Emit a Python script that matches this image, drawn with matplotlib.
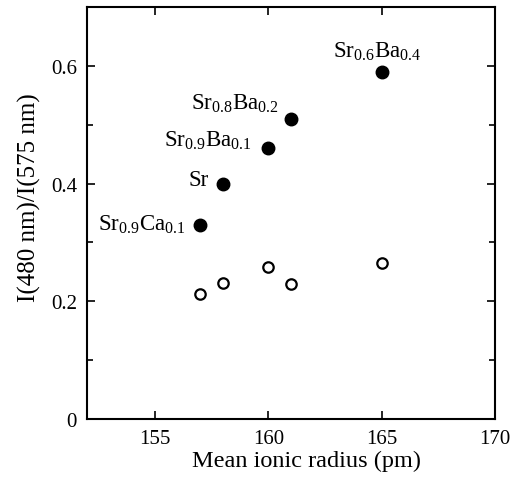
import matplotlib
matplotlib.use('Agg')
from matplotlib import pyplot as plt
from matplotlib.ticker import MultipleLocator

plt.rcParams['font.family'] = ['Liberation Serif', 'DejaVu Serif']
plt.rcParams['mathtext.default'] = 'regular'

# mean ionic radius (pm) and intensity ratio
radius = [157, 158, 160, 161, 165]
ratio_filled = [0.33, 0.40, 0.46, 0.51, 0.59]
ratio_open = [0.213, 0.231, 0.259, 0.230, 0.265]
names = [r'Sr$_{0.9}$Ca$_{0.1}$', 'Sr', r'Sr$_{0.9}$Ba$_{0.1}$',
         r'Sr$_{0.8}$Ba$_{0.2}$', r'Sr$_{0.6}$Ba$_{0.4}$']

fig = plt.figure(figsize=(5.2, 4.81), dpi=100)
ax = fig.add_axes([0.167, 0.127, 0.785, 0.856])

ax.plot(radius, ratio_filled, 'o', color='black', markersize=9, linestyle='none')
ax.plot(radius, ratio_open, 'o', markerfacecolor='white', markeredgecolor='black',
        markeredgewidth=1.6, markersize=7.5, linestyle='none')

# label offsets in pixels (dx, dy, ha)
offsets = [(-14, 1, 'right'), (-14, 4, 'right'), (-17, 8, 'right'),
           (-12, 16, 'right'), (-4, 21, 'center')]
for x, y, name, (dx, dy, ha) in zip(radius, ratio_filled, names, offsets):
    ax.annotate(name, (x, y), xytext=(dx, dy), textcoords='offset pixels',
                ha=ha, va='center', fontsize=16.5)

ax.set_xlim(152, 170)
ax.set_ylim(0, 0.7)
ax.xaxis.set_major_locator(MultipleLocator(5))
ax.yaxis.set_minor_locator(MultipleLocator(0.1))
ax.set_yticks([0, 0.2, 0.4, 0.6])
ax.set_yticklabels(['0', '0.2', '0.4', '0.6'])
ax.tick_params(which='both', direction='in', top=True, right=True, labelsize=15, width=1.2)
ax.tick_params(which='major', length=6, pad=7)
ax.tick_params(which='minor', length=4)
for s in ax.spines.values():
    s.set_linewidth(1.5)

ax.set_xlabel('Mean ionic radius (pm)', fontsize=17.5)
ax.set_ylabel('I(480 nm)/I(575 nm)', fontsize=18)
ax.xaxis.set_label_coords(0.537, -0.075)
ax.yaxis.set_label_coords(-0.112, 0.539)

fig.savefig('out.png', dpi=100)
